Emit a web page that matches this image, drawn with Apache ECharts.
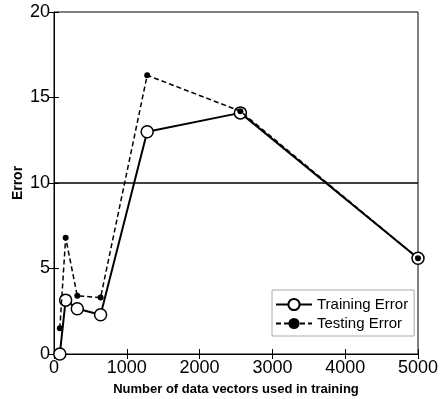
<!DOCTYPE html>
<html>
<head>
<meta charset="utf-8">
<script src="https://cdn.jsdelivr.net/npm/echarts@6/dist/echarts.min.js"></script>
<style>
  html, body { margin: 0; padding: 0; background: #fff; }
  #mainChart { width: 444px; height: 399px; }
</style>
</head>
<body>
<div id="mainChart"></div>
<script>
// data
var sizes = [80, 160, 320, 640, 1280, 2560, 5000];
var trainingError = [0, 3.15, 2.65, 2.3, 13.0, 14.1, 5.6];
var testingError = [1.5, 6.8, 3.4, 3.3, 16.3, 14.2, 5.6];
var refLevel = 10;

function pairs(xs, ys) {
    return xs.map(function (x, i) { return [x, ys[i]]; });
}

var myChart = echarts.init(document.getElementById('mainChart'));
var font = 'Liberation Sans, Arial, sans-serif';

myChart.setOption({
    animation: false,
    grid: {
        left: 54, right: 26, top: 12, bottom: 45,
        containLabel: false,
        outerBoundsMode: 'none',
        show: true, borderColor: '#000', borderWidth: 1
    },
    legend: {
        orient: 'vertical',
        left: 272, top: 290,
        padding: [7, 6, 5, 3],
        itemGap: 4,
        itemWidth: 36, itemHeight: 14,
        backgroundColor: '#fff',
        borderColor: '#aaa', borderWidth: 1,
        textStyle: { fontFamily: font, fontSize: 15, color: '#000' },
        data: ['Training Error', 'Testing Error']
    },
    xAxis: [{
        type: 'value',
        min: 0, max: 5000, interval: 1000,
        name: 'Number of data vectors used in training',
        nameLocation: 'middle', nameGap: 29,
        nameMoveOverlap: false,
        nameTextStyle: { fontFamily: font, fontSize: 13, fontWeight: 'bold', color: '#000' },
        axisLine: { lineStyle: { color: '#000', width: 1 } },
        axisTick: { inside: true, length: 5, lineStyle: { color: '#000' } },
        axisLabel: {
            fontFamily: font, fontSize: 18, color: '#000', margin: 5,
            formatter: function (v) { return String(v); }
        },
        splitLine: { show: false }
    }, {
        type: 'value', position: 'top',
        min: 0, max: 5000, interval: 1000,
        axisLine: { show: false },
        axisTick: { inside: true, length: 5, lineStyle: { color: '#000' } },
        axisLabel: { show: false },
        splitLine: { show: false }
    }],
    yAxis: [{
        type: 'value',
        min: 0, max: 20, interval: 5,
        name: 'Error',
        nameLocation: 'middle', nameGap: 29,
        nameMoveOverlap: false,
        nameTextStyle: { fontFamily: font, fontSize: 14, fontWeight: 'bold', color: '#000' },
        axisLine: { show: true, lineStyle: { color: '#000', width: 1 } },
        axisTick: { show: true, inside: true, length: 5, lineStyle: { color: '#000' } },
        axisLabel: { fontFamily: font, fontSize: 18, color: '#000', margin: 4 },
        splitLine: { show: false }
    }, {
        type: 'value', position: 'right',
        min: 0, max: 20, interval: 5,
        axisLine: { show: false },
        axisTick: { show: true, inside: true, length: 5, lineStyle: { color: '#000' } },
        axisLabel: { show: false },
        splitLine: { show: false }
    }],
    series: [{
        name: 'Training Error',
        type: 'line',
        data: pairs(sizes, trainingError),
        symbol: 'circle',
        symbolSize: 12,
        itemStyle: { color: '#fff', borderColor: '#000', borderWidth: 1.5 },
        lineStyle: { color: '#000', width: 2 },
        z: 3,
        markLine: {
            silent: true,
            symbol: 'none',
            label: { show: false },
            lineStyle: { color: '#000', width: 1.5, type: 'solid' },
            data: [{ yAxis: refLevel }]
        }
    }, {
        name: 'Testing Error',
        type: 'line',
        data: pairs(sizes, testingError),
        symbol: 'circle',
        symbolSize: 6,
        itemStyle: { color: '#000', borderColor: '#000', borderWidth: 0 },
        lineStyle: { color: '#000', width: 1.5, type: [5, 3] },
        z: 4
    }]
});
</script>
</body>
</html>
